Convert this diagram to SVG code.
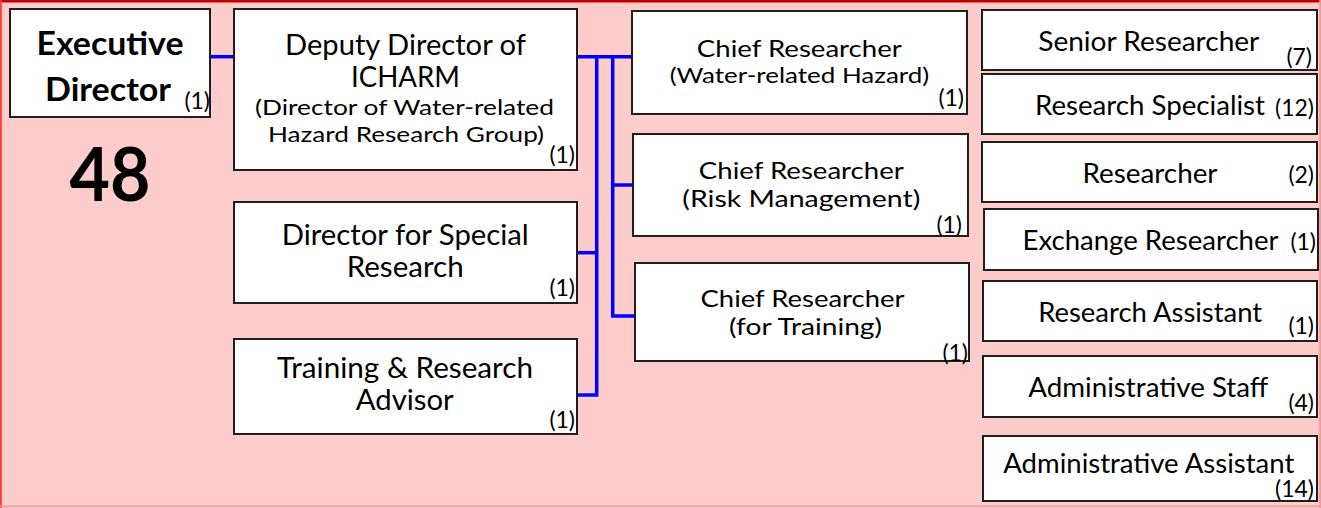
<svg xmlns="http://www.w3.org/2000/svg" width="1321" height="508" viewBox="0 0 1321 508">
<style>
.box{fill:#fff;stroke:#1e1e1e;stroke-width:2}
text{font-family:Lato,"Open Sans","Liberation Sans",sans-serif;fill:#000}
.m{text-anchor:middle;font-size:26px}
.h{font-size:24px}
.l{font-size:28px}
.s{font-size:22px}
.b{font-weight:bold;font-size:32px}
.c{text-anchor:end;font-size:23px}
.conn{fill:none;stroke:#0000ff;stroke-width:3.5}
</style>
<rect x="0" y="0" width="1321" height="508" fill="#ffcccc"/>
<rect x="0" y="0" width="1321" height="2.5" fill="#c00000"/>
<rect x="0" y="0" width="1.8" height="508" fill="#ff3b3b"/>
<rect x="0" y="505.5" width="1321" height="1.5" fill="#f09a9a"/>
<rect x="1319.2" y="0" width="1.8" height="508" fill="#f09a9a"/>

<g id="connectors">
<path class="conn" d="M210,56.7 H234"/>
<path class="conn" d="M577,56.7 H632"/>
<path class="conn" d="M596.7,56.7 V395 H577"/>
<path class="conn" d="M577,252.7 H596.7"/>
<path class="conn" d="M612.7,56.7 V316 H635"/>
<path class="conn" d="M612.7,185 H633"/>
</g>

<g id="executive-director">
<rect class="box" x="10" y="9" width="200" height="108"/>
<text class="m b" x="110" y="55" textLength="147" lengthAdjust="spacingAndGlyphs">Executive</text>
<text class="m b" x="108" y="101" textLength="126" lengthAdjust="spacingAndGlyphs">Director</text>
<text class="c" x="210" y="109">(1)</text>
</g>

<g id="total">
<text class="m" x="110" y="201" style="font-weight:bold;font-size:75px" textLength="81" lengthAdjust="spacingAndGlyphs">48</text>
</g>

<g id="deputy-director">
<rect class="box" x="234" y="9" width="343" height="161"/>
<text class="m l" x="405.5" y="55" textLength="241" lengthAdjust="spacingAndGlyphs">Deputy Director of</text>
<text class="m l" x="405.5" y="87.3" textLength="109" lengthAdjust="spacingAndGlyphs">ICHARM</text>
<text class="m s" x="404.5" y="115" textLength="299" lengthAdjust="spacingAndGlyphs">(Director of Water-related</text>
<text class="m s" x="406" y="141.7" textLength="276" lengthAdjust="spacingAndGlyphs">Hazard Research Group)</text>
<text class="c" x="575" y="163">(1)</text>
</g>

<g id="director-special-research">
<rect class="box" x="234" y="202" width="343" height="101"/>
<text class="m l" x="405.3" y="245" textLength="247" lengthAdjust="spacingAndGlyphs">Director for Special</text>
<text class="m l" x="405.2" y="276.7" textLength="117" lengthAdjust="spacingAndGlyphs">Research</text>
<text class="c" x="575" y="296">(1)</text>
</g>

<g id="training-research-advisor">
<rect class="box" x="234" y="339" width="343" height="95"/>
<text class="m l" x="405" y="378.3" textLength="256" lengthAdjust="spacingAndGlyphs">Training &amp; Research</text>
<text class="m l" x="404.8" y="410" textLength="98" lengthAdjust="spacingAndGlyphs">Advisor</text>
<text class="c" x="575" y="428">(1)</text>
</g>

<g id="chief-water-hazard">
<rect class="box" x="632" y="11" width="335" height="103"/>
<text class="m h" x="799.3" y="56.7" textLength="205" lengthAdjust="spacingAndGlyphs">Chief Researcher</text>
<text class="m" x="799.5" y="83.3" style="font-size:22px" textLength="259.6" lengthAdjust="spacingAndGlyphs">(Water-related Hazard)</text>
<text class="c" x="964" y="106">(1)</text>
</g>

<g id="chief-risk-management">
<rect class="box" x="633" y="134" width="335" height="102"/>
<text class="m h" x="801.3" y="179.3" textLength="205" lengthAdjust="spacingAndGlyphs">Chief Researcher</text>
<text class="m h" x="801.3" y="206.7" textLength="238" lengthAdjust="spacingAndGlyphs">(Risk Management)</text>
<text class="c" x="962" y="233">(1)</text>
</g>

<g id="chief-training">
<rect class="box" x="635" y="263" width="334" height="98"/>
<text class="m h" x="802.5" y="306.7" textLength="204" lengthAdjust="spacingAndGlyphs">Chief Researcher</text>
<text class="m h" x="805.5" y="335" textLength="153" lengthAdjust="spacingAndGlyphs">(for Training)</text>
<text class="c" x="968" y="361">(1)</text>
</g>

<g id="senior-researcher">
<rect class="box" x="982" y="10" width="335" height="60"/>
<text class="m" x="1148.8" y="50.7" textLength="221" lengthAdjust="spacingAndGlyphs">Senior Researcher</text>
<text class="c" x="1312" y="65">(7)</text>
</g>

<g id="research-specialist">
<rect class="box" x="982" y="74" width="335" height="60"/>
<text class="m" x="1150" y="115" textLength="230" lengthAdjust="spacingAndGlyphs">Research Specialist</text>
<text class="c" x="1314" y="116">(12)</text>
</g>

<g id="researcher">
<rect class="box" x="982" y="142" width="335" height="60"/>
<text class="m" x="1150" y="182.7" textLength="135" lengthAdjust="spacingAndGlyphs">Researcher</text>
<text class="c" x="1314" y="183">(2)</text>
</g>

<g id="exchange-researcher">
<rect class="box" x="984" y="209" width="334" height="61"/>
<text class="m" x="1150.5" y="250" textLength="256" lengthAdjust="spacingAndGlyphs">Exchange Researcher</text>
<text class="c" x="1316" y="250">(1)</text>
</g>

<g id="research-assistant">
<rect class="box" x="983" y="281" width="334" height="60"/>
<text class="m" x="1150.2" y="321.7" textLength="224" lengthAdjust="spacingAndGlyphs">Research Assistant</text>
<text class="c" x="1314" y="333.5">(1)</text>
</g>

<g id="administrative-staff">
<rect class="box" x="983" y="356" width="334" height="61"/>
<text class="m" x="1148.3" y="396.7" textLength="240" lengthAdjust="spacingAndGlyphs">Administrative Staff</text>
<text class="c" x="1314" y="410.5">(4)</text>
</g>

<g id="administrative-assistant">
<rect class="box" x="983" y="436" width="334" height="65"/>
<text class="m" x="1148.8" y="473.3" textLength="291" lengthAdjust="spacingAndGlyphs">Administrative Assistant</text>
<text class="c" x="1314" y="497">(14)</text>
</g>
</svg>
